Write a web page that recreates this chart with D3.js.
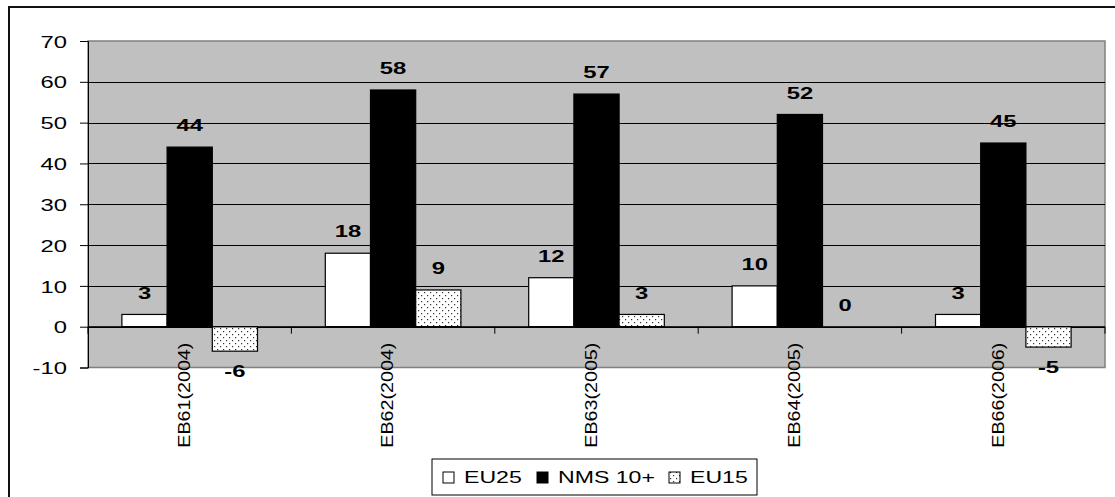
<!DOCTYPE html>
<html>
<head>
<meta charset="utf-8">
<script src="https://cdn.jsdelivr.net/npm/d3@7"></script>
<style>
  html, body { margin: 0; padding: 0; background: #fff; }
  svg { display: block; font-family: "Liberation Sans", Arial, sans-serif; }
</style>
</head>
<body>
<svg id="chart" width="1115" height="497"></svg>
<script>
// Survey waves and the three series
const categories = ["EB61(2004)", "EB62(2004)", "EB63(2005)", "EB64(2005)", "EB66(2006)"];
const seriesNames = ["EU25", "NMS 10+", "EU15"];
const eu25 = [3, 18, 12, 10, 3];
const nms10 = [44, 58, 57, 52, 45];
const eu15 = [-6, 9, 3, 0, -5];
const yTicks = [-10, 0, 10, 20, 30, 40, 50, 60, 70];

// glyphs are drawn a little wider than the font's natural width
const STRETCH = 1.4;

const svg = d3.select("#chart");

// pattern for the EU15 bars: white with scattered dots
const defs = svg.append("defs");
const pat = defs.append("pattern")
  .attr("id", "dots").attr("patternUnits", "userSpaceOnUse")
  .attr("width", 6).attr("height", 6);
pat.append("rect").attr("width", 6).attr("height", 6).attr("fill", "#fff");
pat.append("rect").attr("x", 1).attr("y", 1).attr("width", 1.2).attr("height", 1.2).attr("fill", "#333");
pat.append("rect").attr("x", 4).attr("y", 4).attr("width", 1.2).attr("height", 1.2).attr("fill", "#333");

// outer frame
svg.append("rect").attr("x", 9).attr("y", 7).attr("width", 1120).attr("height", 500)
  .attr("fill", "none").attr("stroke", "#111").attr("stroke-width", 2);

const plot = { left: 88, top: 41, right: 1105, bottom: 367.5 };

const x = d3.scaleBand().domain(categories).range([plot.left, plot.right]).paddingInner(0).paddingOuter(0);
const y = d3.scaleLinear().domain([-10, 70]).range([plot.bottom, plot.top]);

// plot background
svg.append("rect")
  .attr("x", plot.left).attr("y", plot.top)
  .attr("width", plot.right - plot.left).attr("height", plot.bottom - plot.top)
  .attr("fill", "#c0c0c0").attr("stroke", "#808080").attr("stroke-width", 1.5);

// horizontal gridlines
svg.append("g").selectAll("line")
  .data(yTicks.filter(t => t > -10 && t < 70))
  .join("line")
  .attr("x1", plot.left).attr("x2", plot.right)
  .attr("y1", d => Math.round(y(d)) + 0.5).attr("y2", d => Math.round(y(d)) + 0.5)
  .attr("stroke", "#000").attr("stroke-width", 1);

// value axis (plain hyphen for negatives)
const yAxis = d3.axisLeft(y).tickValues(yTicks).tickSize(8).tickPadding(0).tickFormat(d => String(d));
const yg = svg.append("g").attr("transform", `translate(${plot.left},0)`).call(yAxis);
yg.select(".domain").attr("stroke", "#000");
yg.selectAll(".tick line").attr("stroke", "#000");
yg.selectAll(".tick text")
  .attr("x", null).attr("dy", null)
  .attr("text-anchor", "end")
  .attr("dominant-baseline", "central")
  .attr("transform", `translate(-21,0) scale(${STRETCH},1)`)
  .attr("font-size", 17).attr("fill", "#000")
  .attr("font-family", "'Liberation Sans', Arial, sans-serif");

// bars
const inner = d3.scaleBand().domain(seriesNames).range([0, x.bandwidth()]).paddingInner(0).paddingOuter(0.75);
const fills = ["#fff", "#000", "url(#dots)"];
const values = [eu25, nms10, eu15];

const rows = [];
categories.forEach((c, i) => {
  seriesNames.forEach((s, j) => rows.push({ cat: c, series: s, j, v: values[j][i] }));
});

svg.append("g").selectAll("rect")
  .data(rows)
  .join("rect")
  .attr("x", d => x(d.cat) + inner(d.series))
  .attr("width", inner.bandwidth())
  .attr("y", d => y(Math.max(0, d.v)))
  .attr("height", d => Math.abs(y(d.v) - y(0)))
  .attr("fill", d => fills[d.j])
  .attr("stroke", "#000").attr("stroke-width", 1.2);

// category axis along zero
const zeroY = y(0);
svg.append("line").attr("x1", plot.left).attr("x2", plot.right)
  .attr("y1", zeroY).attr("y2", zeroY).attr("stroke", "#000").attr("stroke-width", 1);
svg.append("g").selectAll("line")
  .data(d3.range(categories.length + 1))
  .join("line")
  .attr("x1", i => plot.left + i * x.step()).attr("x2", i => plot.left + i * x.step())
  .attr("y1", zeroY).attr("y2", zeroY + 7)
  .attr("stroke", "#000").attr("stroke-width", 1);

svg.append("g").selectAll("text")
  .data(categories)
  .join("text")
  .attr("transform", d => `translate(${x(d) + x.bandwidth() / 2 - 5},${zeroY + 16}) rotate(-90) scale(1.23,1)`)
  .attr("text-anchor", "end")
  .attr("dominant-baseline", "central")
  .attr("font-size", 16)
  .attr("fill", "#000")
  .text(d => d);

// value labels
svg.append("g").selectAll("text")
  .data(rows)
  .join("text")
  .attr("transform", d => {
    const cx = x(d.cat) + inner(d.series) + inner.bandwidth() / 2;
    const cy = d.v < 0 ? y(d.v) + 20 : y(d.v) - 22;
    return `translate(${cx},${cy}) scale(${STRETCH},1)`;
  })
  .attr("text-anchor", "middle")
  .attr("dominant-baseline", "central")
  .attr("font-size", 17)
  .attr("font-weight", "bold")
  .attr("fill", "#000")
  .text(d => d.v);

// legend
const lg = svg.append("g").attr("transform", "translate(432,459)");
lg.append("rect").attr("width", 325).attr("height", 36)
  .attr("fill", "#fff").attr("stroke", "#000").attr("stroke-width", 1);
const legendX = [11, 105, 237];
seriesNames.forEach((s, j) => {
  const g = lg.append("g").attr("transform", `translate(${legendX[j]},0)`);
  g.append("rect").attr("x", 0).attr("y", 13).attr("width", 11).attr("height", 11)
    .attr("fill", fills[j]).attr("stroke", "#000").attr("stroke-width", 1);
  g.append("text")
    .attr("transform", `translate(21,18.5) scale(${STRETCH},1)`)
    .attr("dominant-baseline", "central")
    .attr("font-size", 16.5).attr("fill", "#000").text(s);
});
</script>
</body>
</html>
